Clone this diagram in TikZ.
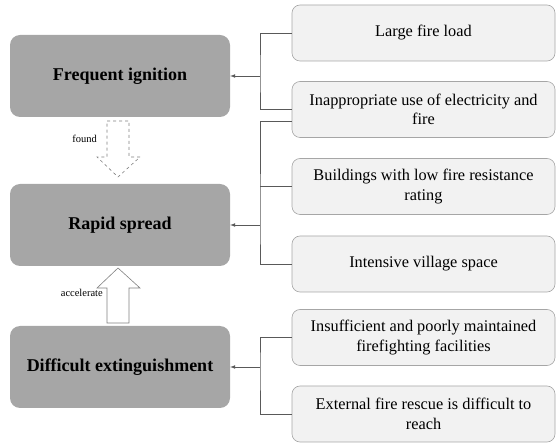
\documentclass[tikz,border=0pt]{standalone}
\usepackage{fontspec}
\setmainfont{Liberation Serif}
\usetikzlibrary{arrows,positioning,calc}

\definecolor{causeGray}{HTML}{A6A6A6}
\definecolor{factorFill}{HTML}{F2F2F2}
\definecolor{factorLine}{HTML}{A6A6A6}
\definecolor{linkGray}{HTML}{595959}

\begin{document}
\begin{tikzpicture}[x=1pt, y=-1pt,
				      every node/.style={align=center},
				      causeBox/.style={
						      shape=rectangle, rounded corners=10pt,
						      fill=causeGray,
						      minimum width=220pt, minimum height=82pt,
						      inner sep=0pt,
						      font=\rmfamily\bfseries\fontsize{18}{21}\selectfont
					      },
				      factorBox/.style={
						      shape=rectangle, rounded corners=8pt,
						      draw=factorLine, fill=factorFill, line width=0.6pt,
						      minimum width=263pt, minimum height=56pt,
						      inner sep=0pt,
						      font=\rmfamily\fontsize{16.3}{19.5}\selectfont
					      },
				      link/.style={draw=linkGray, line width=0.7pt},
				      hollowArrow/.style={draw=gray, line width=0.6pt, fill=white},
				      arrowLabel/.style={anchor=east, inner sep=1pt,
						      font=\rmfamily\fontsize{10.5}{12}\selectfont}
			      ]
			      \useasboundingbox (0,0) rectangle (557,443);

			      % Causes on the left
			      \node[causeBox] (ignition) at (120,76) {Frequent ignition};
			      \node[causeBox] (spread) at (120,225) {Rapid spread};
			      \node[causeBox] (extinguish) at (120,367) {Difficult extinguishment};

			      % Factors on the right
			      \node[factorBox] (load) at (423.5,33) {Large fire load};
			      \node[factorBox] (elec) at (423.5,109.5) {Inappropriate use of electricity and\\fire};
			      \node[factorBox] (rating) at (423.5,186.5) {Buildings with low fire resistance\\rating};
			      \node[factorBox] (village) at (423.5,264) {Intensive village space};
			      \node[factorBox] (facility) at (423.5,337.5) {Insufficient and poorly maintained\\firefighting facilities};
			      \node[factorBox] (rescue) at (423.5,414) {External fire rescue is difficult to\\reach};

			      % Brackets
			      \coordinate (j1) at (260,76);
			      \coordinate (j2) at (260,225);
			      \coordinate (j3) at (260,367);

			      \draw[link] (load.west) -| (j1) |- (elec.west);
			      \draw[link, -latex] (j1) -- (ignition.east);

			      \draw[link] ($(elec.west)+(0,12)$) -| (j2) |- (village.west);
			      \draw[link] (rating.west) -- (rating.west -| j2);
			      \draw[link, -latex] (j2) -- (spread.east);

			      \draw[link] (facility.west) -| (j3) |- (rescue.west);
			      \draw[link, -latex] (j3) -- (extinguish.east);

			      % Hollow arrows between causes
			      \draw[hollowArrow, dashed] (107,121) -- (129,121) -- (129,157) -- (140,157)
			      -- (118,177) -- (97,157) -- (107,157) -- cycle;
			      \node[arrowLabel] (foundLabel) at (98,139) {found};

			      \draw[hollowArrow] (107,323) -- (129,323) -- (129,288) -- (140,288)
			      -- (118,268) -- (97,288) -- (107,288) -- cycle;
			      \node[arrowLabel] (accelLabel) at (104,293) {accelerate};
		      \end{tikzpicture}
\end{document}
